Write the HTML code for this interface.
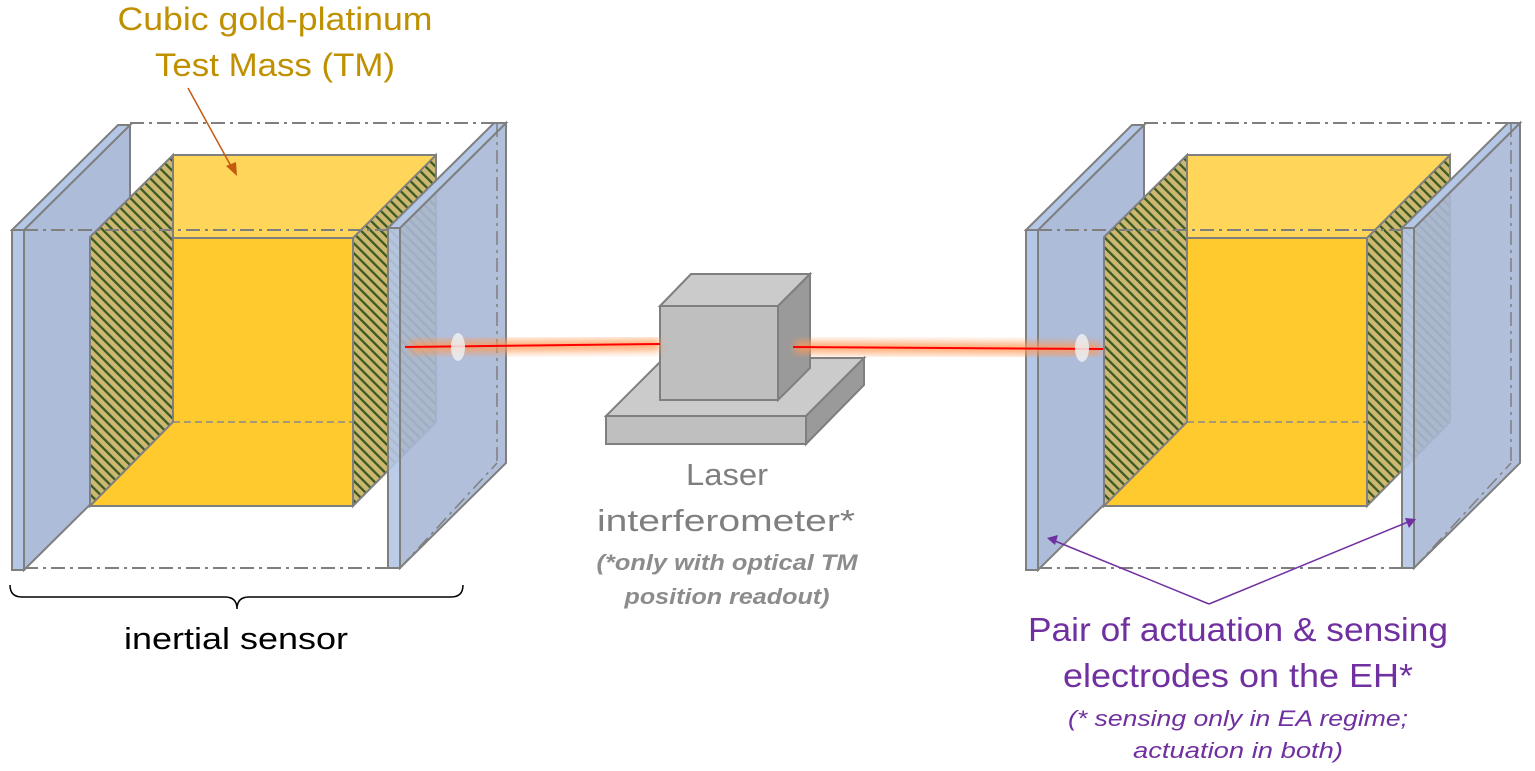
<!DOCTYPE html>
<html><head><meta charset="utf-8"><style>
html,body{margin:0;padding:0;background:#fff;width:1535px;height:771px;overflow:hidden}
svg{display:block}
</style></head><body>
<svg width="1535" height="771" viewBox="0 0 1535 771" xmlns="http://www.w3.org/2000/svg">
<defs>
<pattern id="hatch" patternUnits="userSpaceOnUse" width="7" height="7" patternTransform="rotate(-45)">
<rect width="7" height="7" fill="#cdb872"/>
<rect width="2.3" height="7" fill="#3b5a22"/>
</pattern>
<filter id="glow" x="-20%" y="-200%" width="140%" height="500%"><feGaussianBlur stdDeviation="4"/></filter>
<g id="unit">
<g fill="none" stroke="#7f7f7f" stroke-width="2" stroke-dasharray="14,5,3,5">
<line x1="130" y1="123" x2="497" y2="123"/>
<line x1="24" y1="568" x2="400" y2="568"/>
</g>
<polygon points="24,230 130,125 130,465 24,570" fill="#adbcd9" stroke="#7f7f7f" stroke-width="2"/>
<polygon points="12,230 118,125 130,125 24,230" fill="#b4c7e7" stroke="#7f7f7f" stroke-width="2"/>
<rect x="12" y="230" width="12" height="340" fill="#b4c7e7" stroke="#7f7f7f" stroke-width="2"/>
<polygon points="90,237 173,155 436,155 436,422 353,506 90,506" fill="#ffca2e"/>
<polygon points="173,155 436,155 353,238 173,238" fill="#ffd55a"/>
<line x1="173" y1="422" x2="436" y2="422" stroke="#8a8a8a" stroke-width="1.5" stroke-dasharray="7,4"/>
<polygon points="90,237 173,155 173,422 90,506" fill="url(#hatch)" stroke="#7f7f7f" stroke-width="2"/>
<polygon points="353,238 436,155 436,422 353,506" fill="url(#hatch)" stroke="#7f7f7f" stroke-width="2"/>
<g stroke="#7f7f7f" stroke-width="2" fill="none">
<polyline points="90,506 353,506 353,238 173,238"/>
<line x1="173" y1="155" x2="436" y2="155"/>
</g>
<line x1="24" y1="230" x2="400" y2="230" stroke="#7f7f7f" stroke-width="2" stroke-dasharray="14,5,3,5"/>
<polygon points="400,228 506,123 506,463 400,568" fill="#a9b8d6" fill-opacity="0.9" stroke="#7f7f7f" stroke-width="2"/>
<polygon points="388,228 494,123 506,123 400,228" fill="#b4c7e7" stroke="#7f7f7f" stroke-width="2"/>
<rect x="388" y="228" width="12" height="340" fill="#b4c7e7" fill-opacity="0.9" stroke="#7f7f7f" stroke-width="2"/>
<g fill="none" stroke="#7f7f7f" stroke-width="1.5" stroke-dasharray="14,5,3,5">
<line x1="497" y1="123" x2="497" y2="463"/>
<line x1="400" y1="568" x2="497" y2="463"/>
</g>
</g>
</defs>

<use href="#unit"/>
<use href="#unit" transform="translate(1014,0)"/>

<g stroke="#7f7f7f" stroke-width="2">
<polygon points="606,416 664,358 864,358 806,416" fill="#cbcbcb"/>
<polygon points="806,416 864,358 864,385 806,444" fill="#9a9a9a"/>
<rect x="606" y="416" width="200" height="28" fill="#bfbfbf"/>
<polygon points="660,306 691,274 810,274 778,306" fill="#cbcbcb"/>
<polygon points="778,306 810,274 810,368 778,400" fill="#9a9a9a"/>
<rect x="660" y="306" width="118" height="94" fill="#bfbfbf"/>
</g>

<g filter="url(#glow)" opacity="0.8">
<line x1="410" y1="347" x2="660" y2="345" stroke="#ff9a55" stroke-width="12"/>
<line x1="795" y1="347" x2="1100" y2="349" stroke="#ff9a55" stroke-width="12"/>
</g>
<line x1="405" y1="347" x2="660" y2="344" stroke="#ff0000" stroke-width="2"/>
<line x1="793" y1="347" x2="1103" y2="349" stroke="#ff0000" stroke-width="2"/>
<ellipse cx="458" cy="347" rx="7" ry="14" fill="#eeeeee" opacity="0.85"/>
<ellipse cx="1082" cy="348" rx="7" ry="14" fill="#eeeeee" opacity="0.85"/>

<g font-family="Liberation Sans, sans-serif" text-anchor="middle">
<text x="275" y="30" font-size="32" fill="#bf9000" textLength="315" lengthAdjust="spacingAndGlyphs">Cubic gold-platinum</text>
<text x="275" y="76" font-size="32" fill="#bf9000" textLength="240" lengthAdjust="spacingAndGlyphs">Test Mass (TM)</text>
<line x1="188" y1="88" x2="232" y2="168" stroke="#c55a11" stroke-width="1.5"/>
<polygon points="237,176 226,166 236,162" fill="#c55a11"/>

<path d="M10,585 Q10,597 22,597 L225,597 Q237,597 237,609 Q237,597 249,597 L451,597 Q463,597 463,585" fill="none" stroke="#000" stroke-width="1.5"/>
<text x="236" y="649" font-size="31" fill="#000" textLength="224" lengthAdjust="spacingAndGlyphs">inertial sensor</text>

<text x="727" y="485" font-size="31" fill="#7f7f7f" textLength="82" lengthAdjust="spacingAndGlyphs">Laser</text>
<text x="726" y="531" font-size="31" fill="#7f7f7f" textLength="258" lengthAdjust="spacingAndGlyphs">interferometer*</text>
<text x="727" y="570" font-size="22" font-style="italic" font-weight="bold" fill="#8c8c8c" textLength="261" lengthAdjust="spacingAndGlyphs">(*only with optical TM</text>
<text x="727" y="604" font-size="22" font-style="italic" font-weight="bold" fill="#8c8c8c" textLength="205" lengthAdjust="spacingAndGlyphs">position readout)</text>

<line x1="1209" y1="604" x2="1055" y2="541" stroke="#7030a0" stroke-width="1.5"/>
<polygon points="1047,538 1058,535 1055,545" fill="#7030a0"/>
<line x1="1209" y1="604" x2="1408" y2="522" stroke="#7030a0" stroke-width="1.5"/>
<polygon points="1416,519 1409,528 1405,518" fill="#7030a0"/>
<text x="1238" y="641" font-size="33" fill="#7030a0" textLength="420" lengthAdjust="spacingAndGlyphs">Pair of actuation &amp; sensing</text>
<text x="1238" y="687" font-size="33" fill="#7030a0" textLength="350" lengthAdjust="spacingAndGlyphs">electrodes on the EH*</text>
<text x="1238" y="726" font-size="22" font-style="italic" fill="#7030a0" textLength="340" lengthAdjust="spacingAndGlyphs">(* sensing only in EA regime;</text>
<text x="1238" y="758" font-size="22" font-style="italic" fill="#7030a0" textLength="210" lengthAdjust="spacingAndGlyphs">actuation in both)</text>
</g>
</svg>
</body></html>
